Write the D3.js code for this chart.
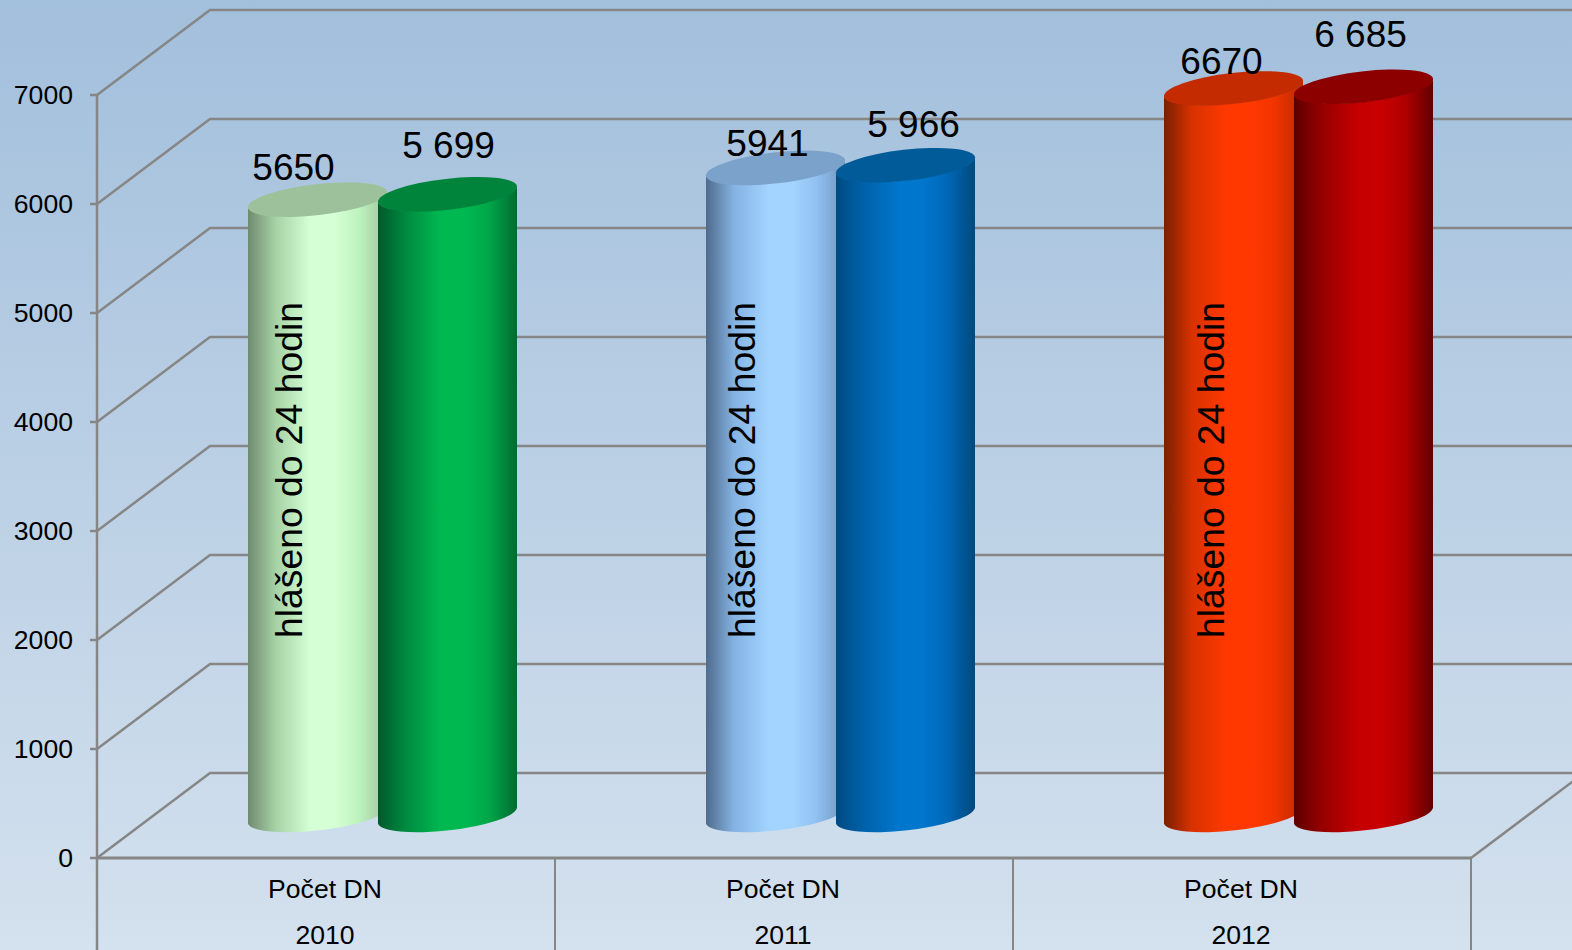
<!DOCTYPE html>
<html><head><meta charset="utf-8">
<script src="https://cdn.jsdelivr.net/npm/d3@7"></script>
<style>html,body{margin:0;padding:0;overflow:hidden}svg{display:block}text{font-family:"Liberation Sans",Arial,sans-serif;fill:#000}</style>
</head><body><div id="c"></div>
<script>
const categories = ["Počet DN","Počet DN","Počet DN"];
const years = ["2010","2011","2012"];
const valuesA = [5650,5941,6670];
const valuesB = [5699,5966,6685];
const labelsA = ["5650","5941","6670"];
const labelsB = ["5 699","5 966","6 685"];
const insideLabel = "hlášeno do 24 hodin";
const yTicks = [0,1000,2000,3000,4000,5000,6000,7000];
const ramps = {
  a0:["#6f8a6f","#a6d2a6","#d5ffd5","#d5ffd5","#bdf2bd","#9fc39f"],
  b0:["#00592a","#008a40","#00b850","#00b850","#00a648","#006b30"],
  a1:["#4f6b8c","#84b2e2","#a2d4ff","#a2d4ff","#90c0f0","#6f94bc"],
  b1:["#004a80","#0062aa","#0076cc","#0076cc","#0068b8","#00497c"],
  a2:["#7a1f00","#d83200","#ff3800","#ff3800","#f03400","#b82a00"],
  b2:["#5c0000","#960000","#c40000","#c80000","#b00000","#620000"]
};
const tops = {a0:"#9dc29b",b0:"#00843c",a1:"#7aa2cb",b1:"#005b98",a2:"#c42b00",b2:"#8c0000"};

const W=1572,H=950;
const svg=d3.select("#c").append("svg").attr("width",W).attr("height",H);
const defs=svg.append("defs");
const bg=defs.append("linearGradient").attr("id","bg").attr("x1",0).attr("x2",0).attr("y1",0).attr("y2",1);
bg.append("stop").attr("offset",0).attr("stop-color","#a2bfdc");
bg.append("stop").attr("offset",1).attr("stop-color","#d4e1ee");
svg.append("rect").attr("width",W).attr("height",H).attr("fill","url(#bg)");

const x=d3.scaleBand().domain(d3.range(years.length)).range([97,1471]).padding(0);
const y=d3.scaleLinear().domain([0,7000]).range([858,95]);
const depthX=113, depthY=-85;
const gridColor="#868686";

const grid=svg.append("g").attr("fill","none").attr("stroke",gridColor).attr("stroke-width",2.5);
yTicks.forEach(t=>{
  grid.append("path").attr("d",`M${x.range()[0]},${y(t)}L${x.range()[0]+depthX},${y(t)+depthY}L${W},${y(t)+depthY}`);
  grid.append("line").attr("x1",x.range()[0]-7).attr("x2",x.range()[0]).attr("y1",y(t)).attr("y2",y(t));
});
grid.append("line").attr("x1",97).attr("x2",97).attr("y1",y(7000)).attr("y2",H);
grid.append("line").attr("x1",97).attr("x2",x.range()[1]).attr("y1",y(0)).attr("y2",y(0)).attr("stroke-width",3);
x.domain().slice(1).concat(["end"]).forEach(i=>{
  const px=i==="end"?x.range()[1]:x(i);
  grid.append("line").attr("x1",px).attr("x2",px).attr("y1",y(0)).attr("y2",H).attr("stroke-width",2);
});
grid.append("line").attr("x1",x.range()[1]).attr("y1",y(0)).attr("x2",x.range()[1]+depthX).attr("y2",y(0)+depthY);

svg.append("g").selectAll("text").data(yTicks).join("text")
  .attr("x",73).attr("y",d=>y(d)-0.5).attr("dy","0.36em").attr("text-anchor","end")
  .attr("font-size",26.6).text(d=>d);
svg.append("g").selectAll("text").data(categories).join("text")
  .attr("x",(d,i)=>x(i)+x.bandwidth()/2-1).attr("y",898).attr("text-anchor","middle").attr("font-size",26.6).text(d=>d);
svg.append("g").selectAll("text").data(years).join("text")
  .attr("x",(d,i)=>x(i)+x.bandwidth()/2-1).attr("y",944).attr("text-anchor","middle").attr("font-size",26.6).text(d=>d);

const rx=70, ry=15.5, tilt=6.5, halfW=69.5, slope=Math.tan(tilt*Math.PI/180)*halfW;
function body(cx,cyTop,cyBot){
  return `M${cx-halfW},${cyTop+slope}L${cx-halfW},${cyBot+slope}`+
    `A${rx},${ry} ${-tilt} 0 0 ${cx+halfW},${cyBot-slope}L${cx+halfW},${cyTop-slope}`+
    `A${rx},${ry} ${-tilt} 0 1 ${cx-halfW},${cyTop+slope}Z`;
}
function gradient(id,colors){
  const g=defs.append("linearGradient").attr("id",id).attr("x1",0).attr("x2",1).attr("y1",0).attr("y2",0);
  const offs=[0,0.2,0.45,0.63,0.8,1];
  colors.forEach((c,i)=>g.append("stop").attr("offset",offs[i]).attr("stop-color",c));
}
Object.keys(ramps).forEach(k=>gradient("g"+k,ramps[k]));

// label nudges relative to each bar, as placed by hand in the original
const nudgeAx=[0,16,12], nudgeAy=[-1,7,5], nudgeBx=[0,7,-4], nudgeBy=[-1,7,-5], nudgeIn=[-2,-7,4];

const marks=svg.append("g");
const base=y(0)+depthY/2;
const yLen=v=>y(0)-y(v);
years.forEach((yr,i)=>{
  const mid=x(i)+x.bandwidth()/2+depthX/2;
  [["a",valuesA[i],mid-65],["b",valuesB[i],mid+65]].forEach(([s,v,cx])=>{
    const k=s+i, topY=base-yLen(v);
    marks.append("path").attr("d",body(cx,topY,base)).attr("fill",`url(#g${k})`);
    marks.append("ellipse").attr("rx",rx).attr("ry",ry)
      .attr("transform",`translate(${cx},${topY}) rotate(${-tilt})`).attr("fill",tops[k]);
  });
  const topA=base-yLen(valuesA[i]), topB=base-yLen(valuesB[i]);
  marks.append("text").attr("x",mid-89+nudgeAx[i]).attr("y",topA-19+nudgeAy[i]).attr("text-anchor","middle").attr("font-size",37).text(labelsA[i]);
  marks.append("text").attr("x",mid+66+nudgeBx[i]).attr("y",topB-35+nudgeBy[i]).attr("text-anchor","middle").attr("font-size",37).text(labelsB[i]);
  marks.append("text").attr("transform",`translate(${mid-79+nudgeIn[i]},638) rotate(-90)`).attr("font-size",37.3).text(insideLabel);
});
</script></body></html>
